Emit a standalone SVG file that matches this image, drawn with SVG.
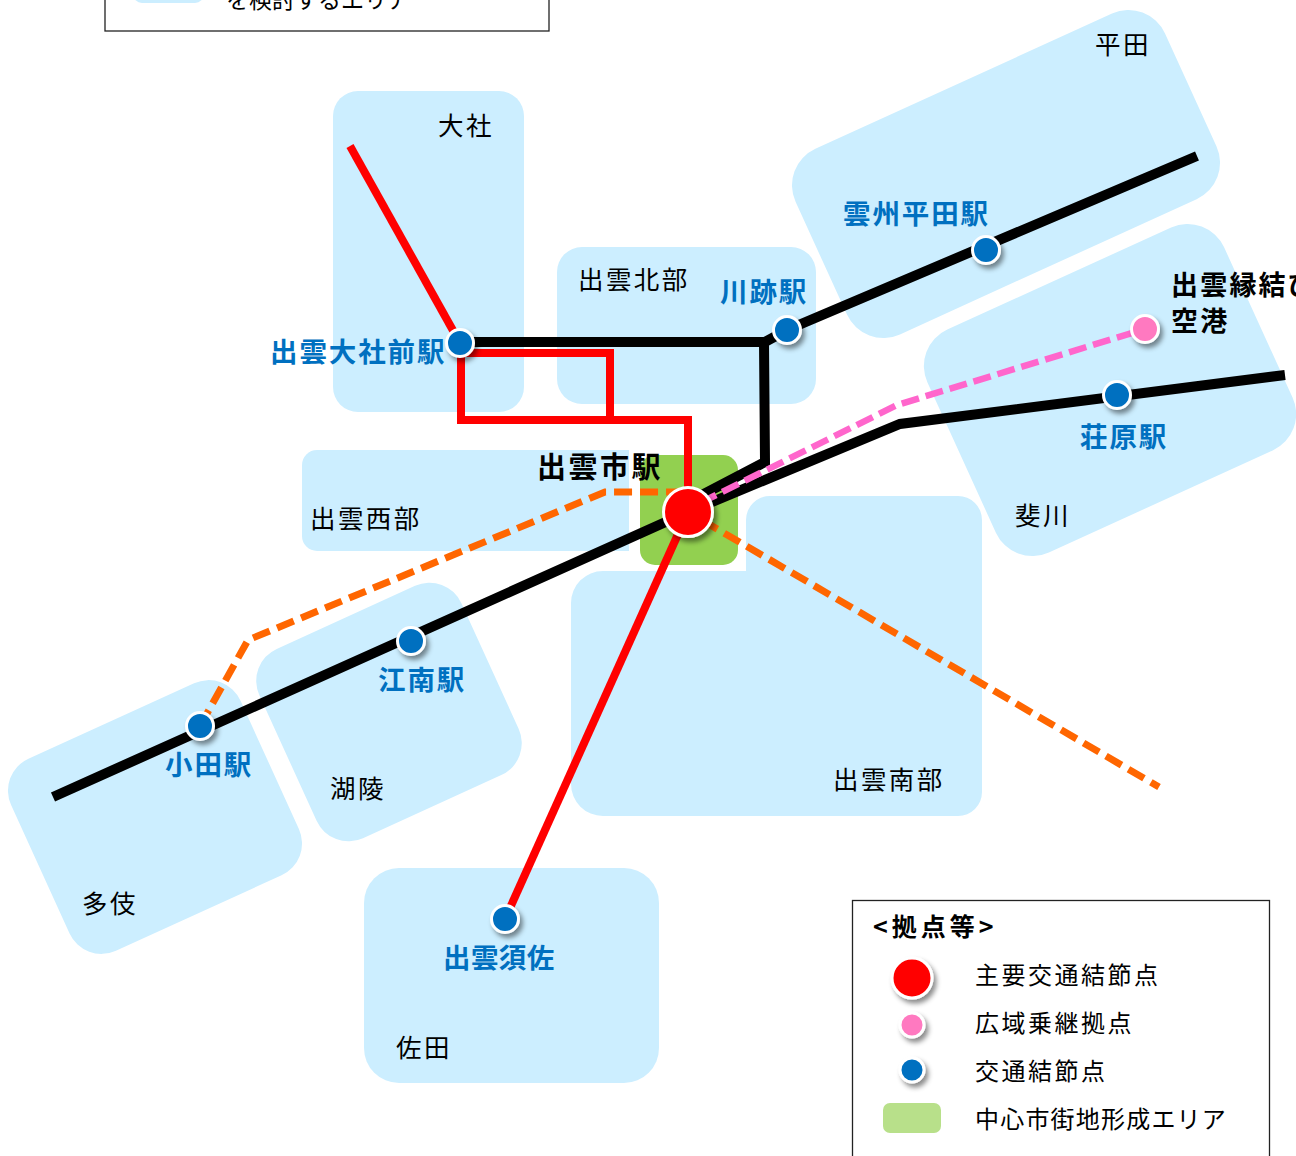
<svg xmlns="http://www.w3.org/2000/svg" width="1296" height="1156" viewBox="0 0 1296 1156">
<style>
text{font-family:"Noto Sans CJK JP","Noto Sans",sans-serif}
.a{fill:#cceeff}
.l{fill:none;stroke-linejoin:miter}
.k{stroke:#000;stroke-width:10}
.r{stroke:#f00;stroke-width:8}
.o{stroke:#ff6600;stroke-width:7;stroke-dasharray:18 8}
.p{stroke:#ff66cc;stroke-width:6.500;stroke-dasharray:18 7}
.n{font-size:25.500px;fill:#000;letter-spacing:2.400px}
.s{font-size:27.500px;font-weight:700;fill:#0070c0;letter-spacing:1.900px}
.b{font-size:29px;font-weight:700;fill:#000;letter-spacing:2.500px}
.g{font-size:24px;fill:#000;letter-spacing:2.500px}
.box{fill:#fff;stroke:#222;stroke-width:1.300}
.d{stroke:#fff;stroke-width:3;filter:url(#sh)}
</style>
<defs>
<filter id="sh" x="-50%" y="-50%" width="220%" height="220%"><feDropShadow dx="3" dy="4" stdDeviation="2.500" flood-color="#000" flood-opacity=".45"/></filter>
</defs>
<rect width="1296" height="1156" fill="#fff"/>
<g id="area-hirata"><rect class="a" x="803" y="72" width="406" height="204" rx="40" transform="rotate(-24.5 1006 174)"/><text class="n" x="1095" y="54">平田</text></g>
<g id="area-hikawa"><rect class="a" x="947" y="267.500" width="326" height="245" rx="40" transform="rotate(-24.5 1110 390)"/><text class="n" x="1015" y="525">斐川</text></g>
<g id="area-koryo"><rect class="a" x="278" y="608" width="222" height="208" rx="35" transform="rotate(-24.5 389 712)"/><text class="n" x="330" y="798">湖陵</text></g>
<g id="area-taki"><rect class="a" x="29" y="711.500" width="252" height="211" rx="35" transform="rotate(-24.5 155 817)"/><text class="n" x="82" y="913">多伎</text></g>
<g id="area-taisha"><rect class="a" x="333" y="91" width="191" height="321" rx="25"/><text class="n" x="438" y="135">大社</text></g>
<g id="area-hokubu"><rect class="a" x="557" y="247" width="259" height="157" rx="25"/><text class="n" x="578" y="289">出雲北部</text></g>
<g id="area-seibu"><path class="a" d="M317 450H629V551H317a15 15 0 0 1-15-15V465a15 15 0 0 1 15-15z"/><text class="n" x="310" y="528">出雲西部</text></g>
<g id="area-nanbu"><path class="a" d="M746 520a24 24 0 0 1 24-24H958a24 24 0 0 1 24 24V792a24 24 0 0 1-24 24H603a32 32 0 0 1-32-32V603a32 32 0 0 1 32-32H746z"/><text class="n" x="833" y="789">出雲南部</text></g>
<g id="area-sada"><rect class="a" x="364" y="868" width="295" height="215" rx="35"/><text class="n" x="396" y="1057">佐田</text></g>
<g id="center-area"><rect x="640" y="455" width="98" height="110" rx="15" fill="#92d050"/></g>
<g id="connectors">
<path class="l k" d="M53 797L688 512L900 424L1285 375"/>
<path class="l k" d="M460 342H765L787 330L1197 156"/>
<path class="l k" d="M764 342L765 462L700 496"/>
<path class="l r" d="M350 146L460 343"/>
<path class="l r" d="M461 343V420H688V512"/>
<path class="l r" d="M461 353H610V420"/>
<path class="l r" d="M688 512L505 919"/>
<path class="l o" d="M200 726L248 640L605 492H688"/>
<path class="l o" style="stroke-dashoffset:10" d="M688 512L1159 787"/>
<path class="l p" d="M700 503L897 405L1145 329"/>
</g>
<g id="node-izumoshi"><circle class="d" cx="688" cy="512" r="24.500" fill="#f00"/><text class="b" x="537" y="478">出雲市駅</text></g>
<g id="node-airport"><circle class="d" cx="1145" cy="329" r="13.500" fill="#ff79c0"/><text class="b" x="1171" y="295" style="font-size:27px;letter-spacing:2.200px">出雲縁結び</text><text class="b" x="1171" y="331" style="font-size:27px;letter-spacing:2.200px">空港</text></g>
<g id="node-taishamae"><circle class="d" cx="460" cy="343" r="13.500" fill="#0070c0"/><text class="s" x="270" y="362">出雲大社前駅</text></g>
<g id="node-kawato"><circle class="d" cx="787" cy="330" r="13.500" fill="#0070c0"/><text class="s" x="720" y="302">川跡駅</text></g>
<g id="node-hirata"><circle class="d" cx="986" cy="250" r="13.500" fill="#0070c0"/><text class="s" x="843" y="224">雲州平田駅</text></g>
<g id="node-shobara"><circle class="d" cx="1117" cy="395" r="13.500" fill="#0070c0"/><text class="s" x="1080" y="447">荘原駅</text></g>
<g id="node-konan"><circle class="d" cx="411" cy="641" r="13.500" fill="#0070c0"/><text class="s" x="378" y="690">江南駅</text></g>
<g id="node-oda"><circle class="d" cx="200" cy="726" r="13.500" fill="#0070c0"/><text class="s" x="165" y="775">小田駅</text></g>
<g id="node-susa"><circle class="d" cx="505" cy="919" r="13.500" fill="#0070c0"/><text class="s" x="443" y="968" style="letter-spacing:0.400px">出雲須佐</text></g>
<g id="legend-top"><rect class="box" x="105" y="-40" width="444" height="71"/><rect class="a" x="133" y="-30" width="71" height="33" rx="9"/><text x="226" y="8" style="font-size:23px;letter-spacing:0">を検討するエリア</text></g>
<g id="legend-bottom"><rect class="box" x="852.500" y="900.500" width="417" height="280"/>
<text x="873" y="936" style="font-size:25px;font-weight:700;letter-spacing:4px" fill="#000">&lt;拠点等&gt;</text>
<circle class="d" cx="912" cy="978" r="20" fill="#f00"/><text class="g" x="975" y="984">主要交通結節点</text>
<circle class="d" cx="912" cy="1025" r="12" fill="#ff79c0"/><text class="g" x="975" y="1032">広域乗継拠点</text>
<circle class="d" cx="912" cy="1070" r="12" fill="#0070c0"/><text class="g" x="975" y="1080">交通結節点</text>
<rect x="883" y="1103" width="58" height="30" rx="7" fill="#b8e08a"/><text class="g" x="975" y="1128" style="letter-spacing:1.200px">中心市街地形成エリア</text></g>
</svg>
